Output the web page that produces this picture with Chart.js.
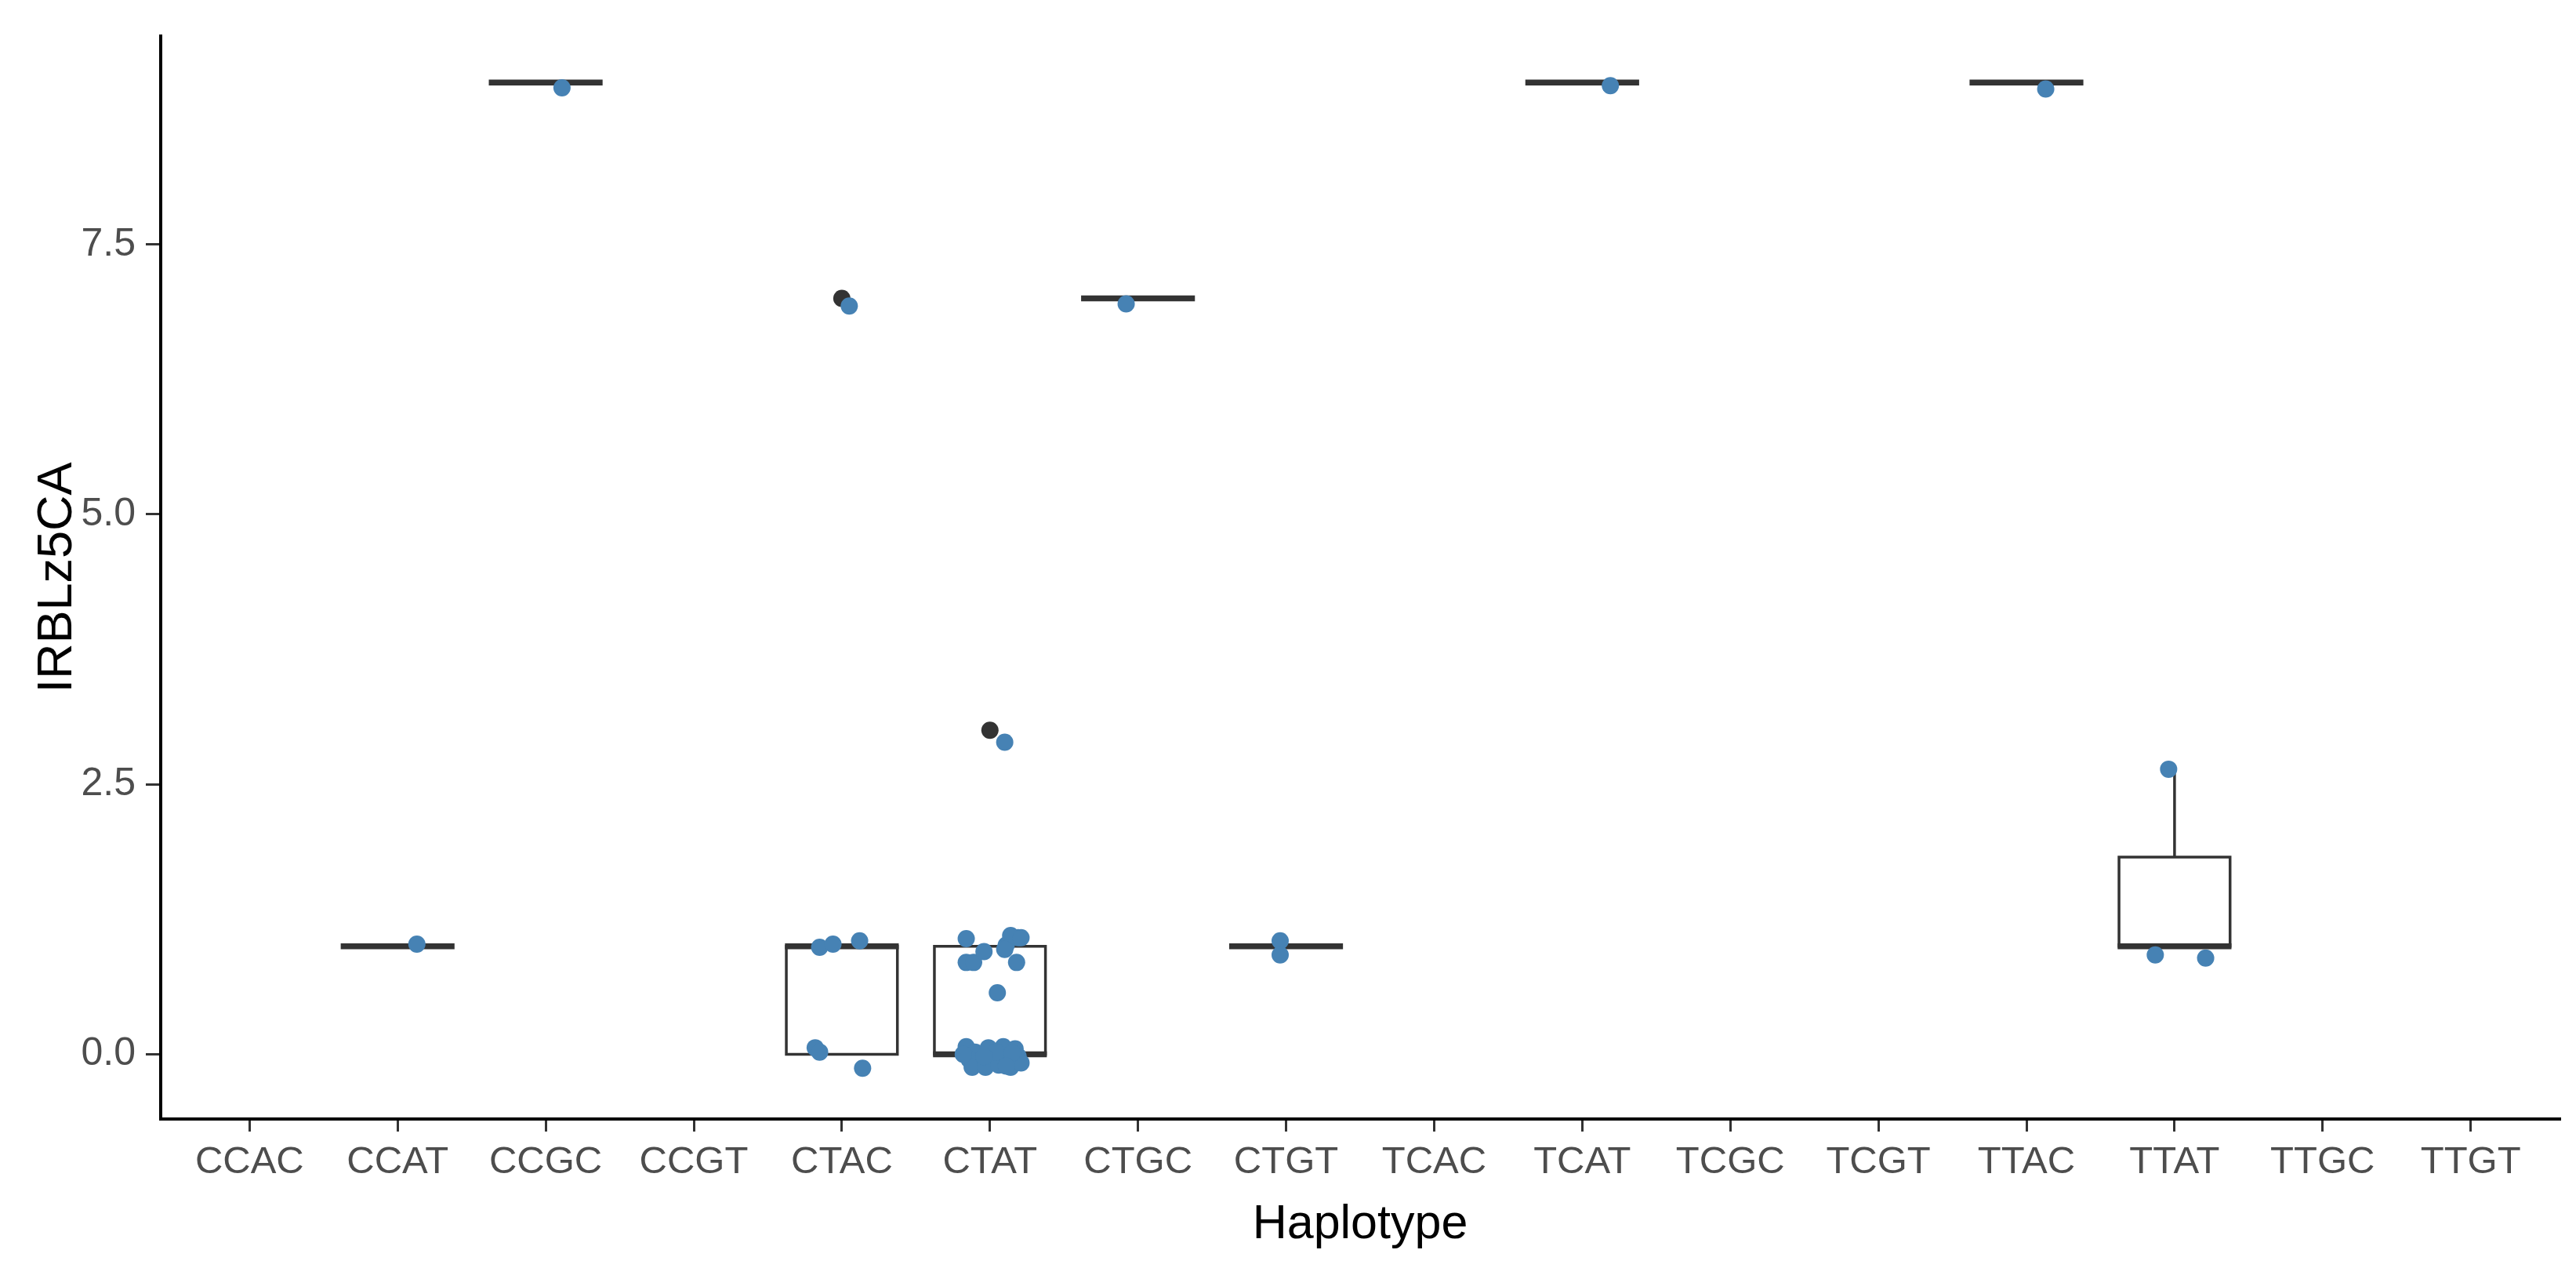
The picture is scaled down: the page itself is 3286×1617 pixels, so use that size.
<!DOCTYPE html>
<html>
<head>
<meta charset="utf-8">
<script src="https://cdn.jsdelivr.net/npm/chart.js@4.4.1/dist/chart.umd.min.js"></script>
<style>
  html, body { margin: 0; padding: 0; background: #fff; }
  canvas { display: block; }
</style>
</head>
<body>
<canvas id="chart" width="3286" height="1617"></canvas>
<script>
const haplotypes = ['CCAC', 'CCAT', 'CCGC', 'CCGT', 'CTAC', 'CTAT', 'CTGC', 'CTGT',
  'TCAC', 'TCAT', 'TCGC', 'TCGT', 'TTAC', 'TTAT', 'TTGC', 'TTGT'];
const yTicks = [0, 2.5, 5, 7.5];

// box statistics per haplotype (null = no data)
const boxLow    = [null, 1, 9, null, 0, 0, 7, 1, null, 9, null, null, 9, 1, null, null];
const boxQ1     = [null, 1, 9, null, 0, 0, 7, 1, null, 9, null, null, 9, 1, null, null];
const boxMedian = [null, 1, 9, null, 1, 0, 7, 1, null, 9, null, null, 9, 1, null, null];
const boxQ3     = [null, 1, 9, null, 1, 1, 7, 1, null, 9, null, null, 9, 1.825, null, null];
const boxHigh   = [null, 1, 9, null, 1, 1, 7, 1, null, 9, null, null, 9, 2.65, null, null];

const outlierCat = [4, 5];
const outlierValue = [7, 3];

// jittered observations: haplotype index, horizontal jitter, value
const jitterCat = [
  1, 2,
  4, 4, 4, 4, 4, 4, 4,
  5, 5, 5, 5, 5, 5, 5, 5, 5, 5, 5,
  5, 5, 5, 5, 5, 5, 5, 5, 5, 5, 5, 5, 5, 5, 5, 5, 5, 5, 5, 5,
  6, 7, 7, 9, 12, 13, 13, 13
];
const jitterOffset = [
  0.13, 0.11,
  0.05, -0.15, -0.06, 0.12, -0.18, -0.15, 0.14,
  -0.16, -0.16, -0.11, -0.04, 0.11, 0.19, 0.14, 0.21, 0.10, 0.18, 0.05,
  -0.16, -0.10, -0.01, 0.09, 0.17, 0.19, -0.14, -0.07, 0.03, 0.12,
  -0.12, -0.03, 0.06, 0.14, 0.21, -0.18, 0.04, -0.04, 0.15, 0.11,
  -0.08, -0.04, -0.04, 0.19, 0.13, -0.04, -0.13, 0.21
];
const jitterValue = [
  1.02, 8.95,
  6.93, 0.99, 1.02, 1.05, 0.06, 0.02, -0.13,
  1.07, 0.85, 0.85, 0.95, 1.01, 1.08, 1.10, 1.08, 0.97, 0.85, 0.57,
  0.07, 0.02, 0.06, 0.07, 0.05, -0.02, -0.05, -0.08, -0.03, -0.06,
  -0.12, -0.12, -0.10, -0.12, -0.08, 0.00, 0.02, -0.02, 0.01, -0.11,
  6.95, 1.05, 0.92, 8.97, 8.94, 2.64, 0.92, 0.89
];
const extraCat = [5];
const extraOffset = [0.10];
const extraValue = [2.89];

const allCat = jitterCat.concat(extraCat);
const allOffset = jitterOffset.concat(extraOffset);
const allValue = jitterValue.concat(extraValue);

const boxWidth = 0.75;

const boxPlugin = {
  id: 'boxes',
  beforeDatasetsDraw(chart) {
    const {ctx, scales: {x, y}} = chart;
    ctx.save();
    ctx.strokeStyle = '#333333';
    ctx.fillStyle = '#ffffff';
    haplotypes.forEach((h, i) => {
      if (boxQ1[i] === null) return;
      const xl = x.getPixelForValue(i - boxWidth / 2);
      const xr = x.getPixelForValue(i + boxWidth / 2);
      const xc = x.getPixelForValue(i);
      const yq1 = y.getPixelForValue(boxQ1[i]);
      const yq3 = y.getPixelForValue(boxQ3[i]);
      const ym = y.getPixelForValue(boxMedian[i]);
      ctx.lineWidth = 3.5;
      // whiskers
      ctx.beginPath();
      ctx.moveTo(xc, yq3);
      ctx.lineTo(xc, y.getPixelForValue(boxHigh[i]));
      ctx.moveTo(xc, yq1);
      ctx.lineTo(xc, y.getPixelForValue(boxLow[i]));
      ctx.stroke();
      // box
      ctx.beginPath();
      ctx.rect(xl, yq3, xr - xl, yq1 - yq3);
      ctx.fill();
      ctx.stroke();
      // median
      ctx.lineWidth = 7.5;
      ctx.beginPath();
      ctx.moveTo(xl - 1.75, ym);
      ctx.lineTo(xr + 1.75, ym);
      ctx.stroke();
    });
    ctx.restore();
  }
};

new Chart(document.getElementById('chart'), {
  type: 'scatter',
  data: {
    datasets: [{
      label: 'points',
      data: allCat.map((c, k) => ({x: c + allOffset[k], y: allValue[k]})),
      backgroundColor: '#4682B4',
      borderWidth: 0,
      pointRadius: 11
    }, {
      label: 'outliers',
      data: outlierCat.map((c, k) => ({x: c, y: outlierValue[k]})),
      backgroundColor: '#333333',
      borderWidth: 0,
      pointRadius: 11
    }]
  },
  plugins: [boxPlugin],
  options: {
    responsive: false,
    devicePixelRatio: 1,
    animation: false,
    layout: {padding: {left: 0, right: 21, top: 46, bottom: 0}},
    plugins: {legend: {display: false}, tooltip: {enabled: false}},
    scales: {
      x: {
        type: 'linear',
        min: -0.6,
        max: 15.6,
        afterBuildTicks: s => { s.ticks = haplotypes.map((_, i) => ({value: i})); },
        afterFit: s => { s.height = 190; },
        ticks: {
          callback: v => haplotypes[v] ?? '',
          color: '#4D4D4D',
          font: {family: 'Liberation Sans, Arial', size: 49},
          padding: 10,
          maxRotation: 0,
          autoSkip: false
        },
        grid: {drawOnChartArea: false, drawTicks: true, tickLength: 16, tickColor: '#333333', lineWidth: 3},
        border: {display: true, color: '#000000', width: 4},
        title: {
          display: true,
          text: 'Haplotype',
          color: '#000000',
          font: {family: 'Liberation Sans, Arial', size: 61},
          padding: {top: 0, bottom: 18}
        }
      },
      y: {
        min: -0.6,
        max: 9.43,
        afterBuildTicks: s => { s.ticks = yTicks.map(v => ({value: v})); },
        afterFit: s => { s.width = 205; },
        ticks: {
          callback: v => v.toFixed(1),
          color: '#4D4D4D',
          font: {family: 'Liberation Sans, Arial', size: 50},
          padding: 13
        },
        grid: {drawOnChartArea: false, drawTicks: true, tickLength: 19, tickColor: '#333333', lineWidth: 3},
        border: {display: true, color: '#000000', width: 4},
        title: {
          display: true,
          text: 'IRBLz5CA',
          color: '#000000',
          font: {family: 'Liberation Sans, Arial', size: 63},
          padding: {top: 36, bottom: 0}
        }
      }
    }
  }
});
</script>
</body>
</html>
